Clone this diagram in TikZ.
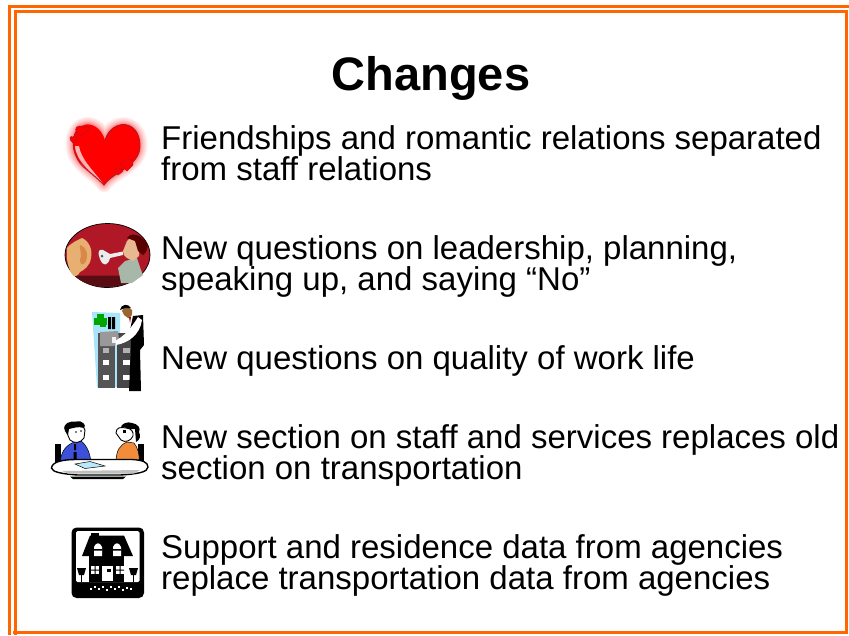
\documentclass[tikz,border=0pt]{standalone}
\usepackage{fontspec}
\setmainfont{Liberation Sans}
\definecolor{fr}{HTML}{FF6600}
\definecolor{hd}{HTML}{FF0000}
\definecolor{hp}{HTML}{FFC4C8}
\definecolor{mar}{HTML}{B01828}
\definecolor{blu}{HTML}{3C50D8}
\definecolor{org}{HTML}{F08C3C}
\definecolor{cab}{HTML}{555555}
\definecolor{sky}{HTML}{A8E4FA}
\definecolor{ear}{HTML}{E8B070}
\definecolor{earin}{HTML}{D88848}
\definecolor{skin}{HTML}{E8B890}
\definecolor{shirt}{HTML}{A8B8A8}
\newcommand\heartpath{(104,185) .. controls (95,172) and (73,165) .. (73,144) .. controls (73,119) and (98,118) .. (105,140) .. controls (112,118) and (140,119) .. (140,146) .. controls (140,166) and (113,172) .. (104,185) -- cycle}
\tikzset{x=1pt,y=-1pt,
 body/.style={font=\fontsize{33}{31.2}\selectfont,anchor=west,align=left,inner sep=0pt,text=black},
 ttl/.style={font=\fontsize{47}{50}\selectfont\bfseries,inner sep=0pt},
 mini/.style={fill=hd,draw=mar,line width=.5pt}}
\begin{document}
\begin{tikzpicture}[line join=miter]
\useasboundingbox (0,0) rectangle (849,635);
\fill[white] (0,0) rectangle (849,635);
% frame
\draw[fr,line width=3pt] (9.5,635) -- (9.5,6.5) -- (849,6.5);
\draw[fr,line width=3pt] (15.5,635) -- (15.5,11.5) -- (846.5,11.5) -- (846.5,632.5) -- (13,632.5);
\node[ttl] (title) at (431,78) {Changes};
\node[body] (t1) at (161,153) {Friendships and romantic relations separated\\from staff relations};
\node[body] (t2) at (161,266.5) {New questions on leadership, planning,\\speaking up, and saying “No”};
\node[body] (t3) at (161,361) {New questions on quality of work life};
\node[body] (t4) at (161,455.5) {New section on staff and services replaces old\\section on transportation};
\node[body] (t5) at (161,565.5) {Support and residence data from agencies\\replace transportation data from agencies};
% heart with soft halo
\foreach \w/\c in {15/red!5,13/red!10,11/red!15,9/red!20,7/red!26,5/red!33,3/red!42}{
 \draw[\c,line width=\w pt,line join=round,fill=\c] \heartpath;
}
\fill[hd] \heartpath;
\fill[red!30] (75,146) .. controls (76,162) and (92,172) .. (104,185) .. controls (95,172) and (81,160) .. (79,146) -- cycle;
\draw[mar,line width=.9pt] (80,127) .. controls (68,136) and (73,160) .. (86,169) .. controls (92,174) and (98,179) .. (104,185) .. controls (113,172) and (140,166) .. (140,146) .. controls (140,119) and (112,118) .. (105,140);
\fill[mini] (81,136) .. controls (74,132) and (74,126) .. (80,126) .. controls (82,126) and (83,127) .. (83,128) .. controls (85,124) and (91,126) .. (88,131) -- cycle;
\fill[mini] (73,143) .. controls (68,139) and (70,135) .. (73,137) .. controls (75,134) and (79,137) .. (77,139) -- cycle;
\fill[mini] (127,171) .. controls (120,166) and (120,160) .. (125,161) .. controls (127,157) and (135,160) .. (133,165) -- cycle;
\fill[mini] (118,175) .. controls (113,171) and (115,168) .. (119,169) .. controls (121,167) and (125,170) .. (122,172) -- cycle;
% listening picture
\fill[mar,draw=black,line width=.7pt] (107.5,223.5) .. controls (132,223.5) and (150,238) .. (150,255) .. controls (150,273) and (130,287.5) .. (107,287.5) .. controls (84,287.5) and (65,272) .. (65,255) .. controls (65,238) and (84,223.5) .. (107.5,223.5) -- cycle;
\fill[black!50!mar] (74,275.5) -- (142,275.5) .. controls (130,284) and (118,287) .. (107,287) .. controls (94,287) and (82,283) .. (74,275.5) -- cycle;
\fill[ear] (67,248) .. controls (72,242) and (78,240) .. (82,238) .. controls (89,241) and (93,250) .. (91,258) .. controls (90,266) and (84,270) .. (80,272) .. controls (78,276) and (74,278) .. (72,274) .. controls (68,268) and (66,258) .. (67,248) -- cycle;
\fill[earin] (80,245) .. controls (87,247) and (89,256) .. (85,263) .. controls (82,267) and (78,262) .. (81,256) .. controls (82,252) and (79,250) .. (80,245) -- cycle;
\fill[white!85!gray] (100,259) .. controls (97,251) and (99,249) .. (103,250) -- (110,254) -- (123,251.5) -- (123,255) -- (110,258) .. controls (108,266) and (103,267) .. (100,259) -- cycle;
\fill[gray!70!black] (102,256) circle (1.5pt);
\fill[shirt] (121,283) -- (118,268) -- (125,261) -- (137,258) -- (141,270) -- (143,275) -- (132,283) -- cycle;
\fill[skin] (123,251) -- (127,241) -- (133,235) -- (139,240) -- (139,256) -- (133,261) -- (127,258) -- (124,255) -- cycle;
\fill[black!65!red] (127,238) .. controls (131,232) and (140,234) .. (147,243) .. controls (149,248) and (146,253) .. (143,255) -- (138,251) -- (135,241) -- cycle;
% filing cabinet
\fill[sky] (92,312) -- (120,313) -- (120,387) -- (97,387) -- cycle;
\fill[green!65!black] (94,318) rectangle (107,325);
\fill[green!65!black] (97,314) rectangle (104,320);
\fill[green!65!black] (100,323) rectangle (106,327);
\fill[black] (108,317) rectangle (111,329) (112,317) rectangle (115,329);
\fill[cab] (98,333) rectangle (115,388);
\fill[black!72] (117,333) rectangle (133,388);
\fill[gray!80] (100,332) -- (118,331) -- (119,340) -- (114,346) -- (100,346) -- cycle;
\foreach \yy/\f in {348/gray!60,360/white,375/white}{
 \fill[\f] (103,\yy) rectangle (109,\yy+5);
 \fill[\f] (123,\yy) rectangle (130,\yy+5);
}
\fill[black] (130,330) -- (133,316) -- (143,315) -- (144,345) -- (140,350) -- (141,391) -- (129,391) -- (131,345) -- cycle;
\fill[white] (138,317) .. controls (130,330) and (124,336) .. (115,341) -- (116,345) .. controls (128,343) and (140,335) .. (142,320) -- cycle;
\fill[brown!80!black] (122,311) .. controls (123,306) and (129,306) .. (132,310) .. controls (133,314) and (131,318) .. (128,318) .. controls (125,317) and (123,314) .. (122,311) -- cycle;
\fill[black] (120,310) .. controls (121,304) and (128,303) .. (131,308) -- (125,308) -- cycle;
\fill[red!70!black] (129,317) -- (131,317) -- (130,323) -- cycle;
\fill[white!90!gray] (112,337) rectangle (116,343);
% meeting
\fill[black] (55,444) rectangle (61,462);
\fill[black] (138,444) rectangle (144,462);
\fill[blu,draw=black,line width=.5pt] (60,462) .. controls (62,448) and (68,445) .. (74,442) -- (81,441) .. controls (88,446) and (90,455) .. (91,462) -- cycle;
\fill[org,draw=black,line width=.5pt] (116,463) .. controls (116,450) and (120,445) .. (127,442) -- (134,443) .. controls (138,448) and (140,455) .. (139,463) -- cycle;
\fill[black] (73.5,452) rectangle (76.5,459) (74,444) rectangle (76,450);
\fill[white,draw=black,line width=.9pt] (66,431) .. controls (63,425) and (67,424) .. (70,424) .. controls (76,423) and (84,424) .. (85,430) -- (84,438) .. controls (81,443) and (74,444) .. (70,440) -- cycle;
\fill[black] (65,431) .. controls (62,423) and (70,421) .. (76,421.5) .. controls (82,420) and (87,425) .. (84,428) .. controls (78,426) and (74,428) .. (69,429) -- (68,435) -- cycle;
\fill[black] (76,432) circle (.9pt) (81,431) circle (.9pt);
\fill[black] (121,428) .. controls (120,424) and (128,421) .. (132,423) .. controls (138,424) and (141,428) .. (139,432) .. controls (141,436) and (140,440) .. (136,442) -- (135,429) .. controls (130,430) and (126,428) .. (124,427) -- cycle;
\fill[white,draw=black,line width=.9pt] (116,433) .. controls (116,427) and (121,427) .. (126,428) .. controls (131,428) and (134,432) .. (133,436) .. controls (131,441) and (125,443) .. (121,440) -- cycle;
\fill[black] (123,430) rectangle (125.5,433);
\fill[white,draw=black,line width=1.4pt] (51.5,468) .. controls (52,462) and (62,459.5) .. (76,459.5) -- (132,459.5) .. controls (142,460) and (148,462) .. (148,467) .. controls (148,472) and (138,474) .. (120,475) -- (78,475) .. controls (62,474) and (52,472) .. (51.5,468) -- cycle;
\fill[black] (70,476.5) -- (126,476.5) -- (123,479) -- (73,479) -- cycle;
\fill[black!25] (62,471) -- (140,470) -- (134,473.5) -- (68,473.5) -- cycle;
\fill[sky!80,draw=black,line width=.5pt] (75,464) -- (90,461.5) -- (105,466) -- (85,468.5) -- cycle;
% house
\fill[black,rounded corners=5pt] (71.5,527.5) rectangle (144,598);
\fill[white,rounded corners=1.5pt] (76,531) rectangle (139.5,582);
\fill[black] (91,533) rectangle (99,538);
\fill[black] (82,556) -- (90,535.5) -- (124,535.5) -- (133,556) -- cycle;
\fill[black] (89,556) rectangle (124,582);
\fill[white] (94,556) -- (94,547) .. controls (96,542) and (100,542) .. (102,547) -- (102,556) -- cycle;
\fill[white] (113,556) -- (113,547) .. controls (115,542) and (119,542) .. (121,547) -- (121,556) -- cycle;
\fill[black] (94,549) rectangle (102,550.5) (113,549) rectangle (121,550.5);
\fill[white] (91,566) rectangle (99,574);
\fill[white] (116,566) rectangle (124,574);
\fill[black] (94.5,566) rectangle (95.5,574) (119.5,566) rectangle (120.5,574) (91,569.5) rectangle (99,570.5) (116,569.5) rectangle (124,570.5);
\fill[white] (102,566) rectangle (113,581);
\fill[black] (107,569) rectangle (111,572);
\fill[black] (77,568) -- (86,568) -- (84,575) -- (79,575) -- cycle;
\fill[black] (81,575) rectangle (82.2,582);
\fill[black] (129,568) -- (138,568) -- (136,575) -- (131,575) -- cycle;
\fill[black] (133,575) rectangle (134.2,582);
\foreach \xx/\yy in {90/588,94/586,98/588,102/586,106/589,110/586,114/588,118/586,122/589,126/587,130/588}{\fill[white] (\xx,\yy) rectangle (\xx+2.4,\yy+2);}
\end{tikzpicture}
\end{document}
